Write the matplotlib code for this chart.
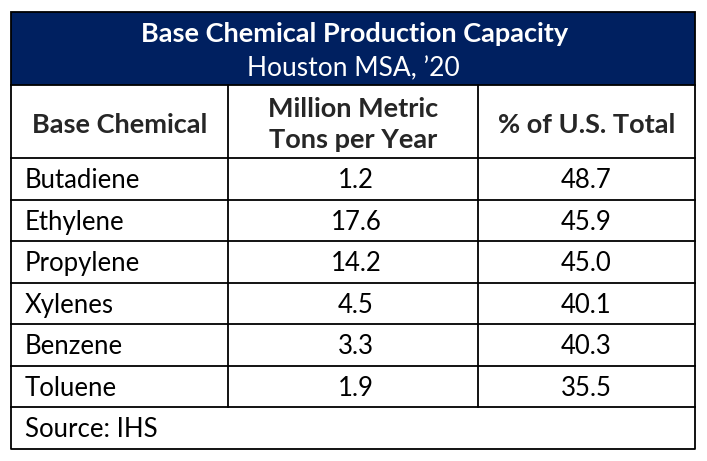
import matplotlib.pyplot as plt
from matplotlib.patches import Rectangle

plt.rcParams['font.family'] = ['Lato', 'DejaVu Sans']

title = 'Base Chemical Production Capacity'
subtitle = 'Houston MSA, \u201920'
col_headers = ['Base Chemical', 'Million Metric\nTons per Year', '% of U.S. Total']
chemicals = ['Butadiene', 'Ethylene', 'Propylene', 'Xylenes', 'Benzene', 'Toluene']
capacity = [1.2, 17.6, 14.2, 4.5, 3.3, 1.9]
pct_total = [48.7, 45.9, 45.0, 40.1, 40.3, 35.5]
source = 'Source: IHS'

navy = '#002060'

fig = plt.figure(figsize=(7.07, 4.61), dpi=100)
ax = fig.add_axes([0, 0, 1, 1])
ax.set_xlim(0, 707)
ax.set_ylim(461, 0)
ax.axis('off')

left, right = 11, 695
col1, col2 = 228, 478
top, band_bottom, head_bottom = 12, 85, 158
row_h = 41.5
lw = 1.3
fs = 18.5
fs_b = 19.5
dy = 2  # nudge text down a bit

# title band
ax.add_patch(Rectangle((left, top), right - left, band_bottom - top,
                       facecolor=navy, edgecolor='black', lw=lw))
ax.text((left + right) / 2 + 2, 32 + dy, title, color='white', fontsize=fs_b,
        fontweight='bold', ha='center', va='center')
ax.text((left + right) / 2, 67 + dy, subtitle, color='white', fontsize=fs + 0.5,
        ha='center', va='center')

# header row
mids = [(left + col1) / 2, (col1 + col2) / 2, (col2 + right) / 2]
for i, h in enumerate(col_headers):
    ax.text(mids[i], (band_bottom + head_bottom) / 2 + 1 + dy, h, fontsize=fs_b,
            fontweight='bold', color='#262626', ha='center', va='center',
            linespacing=1.38)

# data rows
n = len(chemicals)
for i, (name, cap, pct) in enumerate(zip(chemicals, capacity, pct_total)):
    yc = head_bottom + row_h * (i + 0.5) + dy
    ax.text(25, yc, name, fontsize=fs, ha='left', va='center', color='black')
    ax.text(mids[1] + 3, yc, f'{cap:.1f}', fontsize=fs, ha='center', va='center')
    ax.text(mids[2], yc, f'{pct:.1f}', fontsize=fs, ha='center', va='center')

table_bottom = head_bottom + row_h * n
ax.text(25, table_bottom + row_h / 2 + dy, source, fontsize=fs, ha='left', va='center')
bottom = table_bottom + row_h

# grid lines
ax.plot([left, right], [head_bottom, head_bottom], color='black', lw=lw)
for i in range(1, n + 1):
    y = head_bottom + row_h * i
    ax.plot([left, right], [y, y], color='black', lw=lw)
for x in (col1, col2):
    ax.plot([x, x], [band_bottom, table_bottom], color='black', lw=lw)
ax.plot([left, left, right, right], [band_bottom, bottom, bottom, band_bottom],
        color='black', lw=lw)

fig.savefig('out.png', dpi=100)
